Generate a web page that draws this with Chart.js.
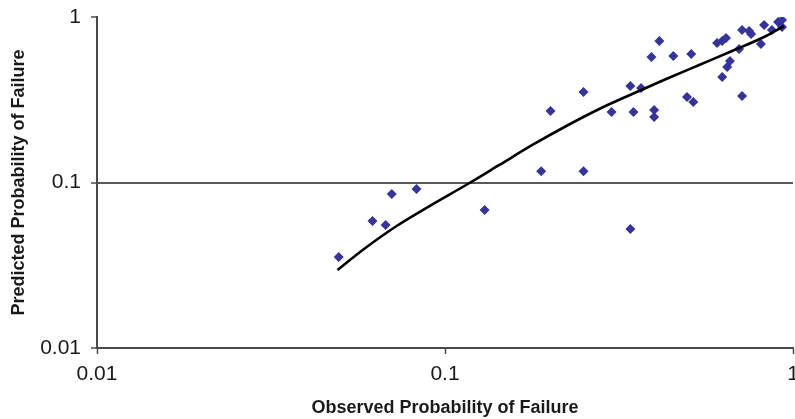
<!DOCTYPE html>
<html>
<head>
<meta charset="utf-8">
<script src="https://cdn.jsdelivr.net/npm/chart.js@4/dist/chart.umd.min.js"></script>
<style>
  html, body { margin: 0; padding: 0; background: #fff; }
  #wrap { width: 795px; height: 419px; position: relative; }
</style>
</head>
<body>
<div id="wrap"><canvas id="c" width="795" height="419"></canvas></div>
<script>
// Observed vs predicted probability of failure (scatter)
const observedX = [0.0495, 0.0619, 0.0675, 0.0703, 0.0828, 0.130, 0.189, 0.201, 0.250, 0.250,
  0.301, 0.341, 0.341, 0.348, 0.366, 0.399, 0.399, 0.392, 0.413, 0.453,
  0.510, 0.496, 0.517, 0.605, 0.626, 0.642, 0.700, 0.659, 0.647, 0.626,
  0.714, 0.748, 0.758, 0.809, 0.826, 0.870, 0.906, 0.930, 0.930, 0.714];
const predictedY = [0.0355, 0.0585, 0.0554, 0.0852, 0.0914, 0.0682, 0.117, 0.270, 0.352, 0.117,
  0.267, 0.383, 0.0524, 0.267, 0.372, 0.274, 0.249, 0.573, 0.716, 0.581,
  0.598, 0.329, 0.307, 0.697, 0.716, 0.747, 0.641, 0.542, 0.499, 0.434,
  0.835, 0.823, 0.790, 0.687, 0.895, 0.835, 0.933, 0.959, 0.870, 0.333];
// Model curve
const curveX = [0.0491, 0.0580, 0.0726, 0.0903, 0.1176, 0.1433, 0.1783, 0.2232, 0.2775, 0.3451, 0.432, 0.5374, 0.6683, 0.8366, 0.9423];
const curveY = [0.0296, 0.0391, 0.0546, 0.0721, 0.0993, 0.1276, 0.1685, 0.2195, 0.2780, 0.3425, 0.422, 0.5129, 0.6229, 0.7676, 0.8823];
// Axes
const xTickValues = [0.01, 0.1, 1];
const xTickLabels = ['0.01', '0.1', '1'];
const yTickValues = [0.01, 0.1, 1];
const yTickLabels = ['0.01', '0.1', '1'];
const xTitle = 'Observed Probability of Failure';
const yTitle = 'Predicted Probability of Failure';

const scatterPts = observedX.map((x, i) => ({ x: x, y: predictedY[i] }));
const curvePts = curveX.map((x, i) => ({ x: x, y: curveY[i] }));

const axisColor = '#4a4a4a';
const textColor = '#1a1a1a';

new Chart(document.getElementById('c'), {
  type: 'scatter',
  data: {
    datasets: [
      {
        label: 'Observed',
        data: scatterPts,
        pointStyle: 'rectRot',
        pointRadius: 5,
        pointBackgroundColor: '#34349a',
        pointBorderColor: '#34349a',
        pointBorderWidth: 0,
        order: 2
      },
      {
        label: 'Model',
        type: 'line',
        data: curvePts,
        showLine: true,
        borderColor: '#000',
        borderWidth: 2.6,
        pointRadius: 0,
        cubicInterpolationMode: 'monotone',
        fill: false,
        order: 1
      }
    ]
  },
  options: {
    responsive: false,
    animation: false,
    devicePixelRatio: 1,
    layout: { autoPadding: false, padding: { left: 0, right: 2, top: 17, bottom: 0 } },
    plugins: { legend: { display: false }, tooltip: { enabled: false } },
    scales: {
      x: {
        type: 'logarithmic',
        min: 0.01,
        max: 1,
        afterBuildTicks: s => { s.ticks = xTickValues.map(v => ({ value: v })); },
        afterFit: s => { s.height = 71; s.paddingRight = 0; s.paddingLeft = 0; },
        ticks: {
          autoSkip: false,
          maxRotation: 0,
          padding: 8,
          color: textColor,
          font: { family: 'Liberation Sans', size: 21 },
          callback: v => xTickLabels[xTickValues.indexOf(v)]
        },
        grid: {
          drawOnChartArea: false,
          drawTicks: true,
          tickLength: 6,
          tickColor: axisColor,
          tickWidth: 1.5
        },
        border: { display: true, color: axisColor, width: 2 },
        title: {
          display: true,
          text: xTitle,
          color: textColor,
          font: { family: 'Liberation Sans', size: 18, weight: 'bold' },
          padding: { top: 0, bottom: 0 }
        }
      },
      y: {
        type: 'logarithmic',
        min: 0.01,
        max: 1,
        afterBuildTicks: s => { s.ticks = yTickValues.map(v => ({ value: v })); },
        afterFit: s => { s.width = 97; s.paddingTop = 0; s.paddingBottom = 0; },
        ticks: {
          autoSkip: false,
          padding: 10,
          color: textColor,
          font: { family: 'Liberation Sans', size: 21 },
          callback: v => yTickLabels[yTickValues.indexOf(v)]
        },
        grid: {
          drawOnChartArea: true,
          drawTicks: true,
          tickLength: 6,
          tickColor: axisColor,
          tickWidth: 1.5,
          lineWidth: 2,
          color: ctx => (ctx.tick && ctx.tick.value === 0.1) ? '#5a5a5a' : 'rgba(0,0,0,0)'
        },
        border: { display: true, color: axisColor, width: 2 },
        title: {
          display: true,
          text: yTitle,
          color: textColor,
          font: { family: 'Liberation Sans', size: 18, weight: 'bold' },
          padding: { top: 8, bottom: 0 }
        }
      }
    }
  }
});
</script>
</body>
</html>
